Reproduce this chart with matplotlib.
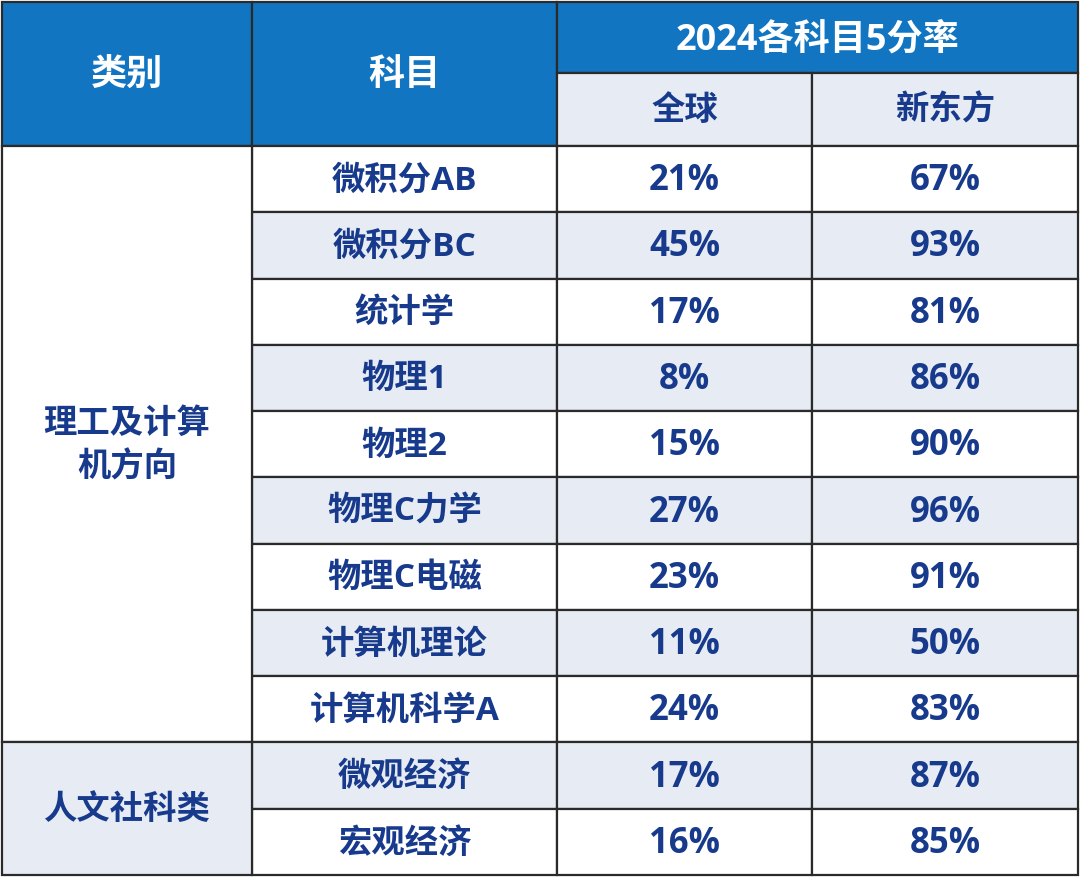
import matplotlib.pyplot as plt
from matplotlib.patches import Rectangle

plt.rcParams['font.family'] = ['Open Sans', 'Noto Sans CJK SC', 'DejaVu Sans']

# ---- data ------------------------------------------------------------------
categories = ["理工及计算\n机方向", "人文社科类"]
category_sizes = [9, 2]
subjects = ["微积分AB", "微积分BC", "统计学", "物理1", "物理2", "物理C力学",
            "物理C电磁", "计算机理论", "计算机科学A", "微观经济", "宏观经济"]
global_rate = [21, 45, 17, 8, 15, 27, 23, 11, 24, 17, 16]
xdf_rate = [67, 93, 81, 86, 90, 96, 91, 50, 83, 87, 85]

# ---- layout / colours ------------------------------------------------------
W, H = 1080, 881
col_x = [2, 252, 557, 812, 1078]
head_y = [2, 73, 146]
bottom = 875
blue = "#1275c2"
light = "#e7ecf4"
navy = "#173a8c"
line = "#2a2a2a"

fig = plt.figure(figsize=(W / 100, H / 100), dpi=100)
ax = fig.add_axes([0, 0, 1, 1])
ax.set_xlim(0, W)
ax.set_ylim(H, 0)
ax.axis("off")


def cell(x0, x1, y0, y1, color, text, tcolor, size, dy=2):
    ax.add_patch(Rectangle((x0, y0), x1 - x0, y1 - y0, facecolor=color,
                           edgecolor=line, linewidth=1.6))
    ax.text((x0 + x1) / 2, (y0 + y1) / 2 + dy, text, color=tcolor, fontsize=size,
            fontweight="bold", ha="center", va="center", linespacing=1.4)


# header
cell(col_x[0], col_x[1], head_y[0], head_y[2], blue, "类别", "white", 26)
cell(col_x[1], col_x[2], head_y[0], head_y[2], blue, "科目", "white", 26)
cell(col_x[2], col_x[4], head_y[0], head_y[1], blue, "2024各科目5分率", "white", 26, dy=3)
cell(col_x[2], col_x[3], head_y[1], head_y[2], light, "全球", navy, 24)
cell(col_x[3], col_x[4], head_y[1], head_y[2], light, "新东方", navy, 24)

# body rows
rh = (bottom - head_y[2]) / len(subjects)
for i, (s, g, x) in enumerate(zip(subjects, global_rate, xdf_rate)):
    y0 = head_y[2] + i * rh
    bg = "white" if i % 2 == 0 else light
    cell(col_x[1], col_x[2], y0, y0 + rh, bg, s, navy, 24)
    cell(col_x[2], col_x[3], y0, y0 + rh, bg, f"{g}%", navy, 25)
    cell(col_x[3], col_x[4], y0, y0 + rh, bg, f"{x}%", navy, 25)

# category column
start = 0
for j, (c, n) in enumerate(zip(categories, category_sizes)):
    y0 = head_y[2] + start * rh
    bg = "white" if j == 0 else light
    cell(col_x[0], col_x[1], y0, y0 + n * rh, bg, c, navy, 24)
    start += n

fig.savefig("out.png", dpi=100)
